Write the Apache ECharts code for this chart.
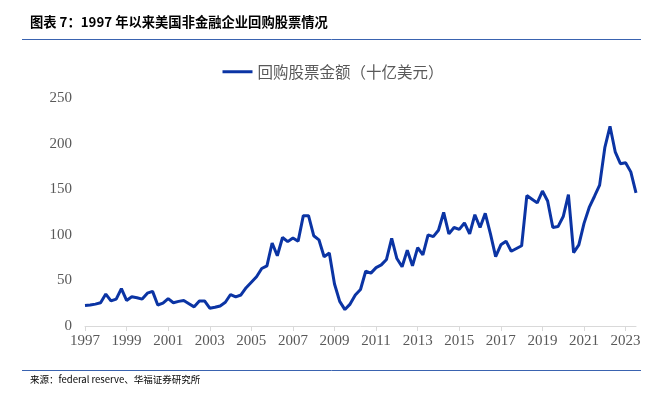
<!DOCTYPE html>
<html>
<head>
<meta charset="utf-8">
<script src="https://cdn.jsdelivr.net/npm/echarts@6/dist/echarts.min.js"></script>
<style>html,body{margin:0;padding:0;background:#fff;}#c{width:666px;height:393px;}</style>
</head>
<body>
<div id="c"></div>
<script>
// Quarterly categories 1997Q1 .. 2023Q3
const years = [];
for (let y = 1997; y <= 2023; y++) years.push(y);
const quarters = [];
years.forEach(y => { for (let q = 1; q <= 4; q++) { if (y === 2023 && q > 3) break; quarters.push(y + 'Q' + q); } });

const seriesName = '回购股票金额（十亿美元）';
const buybacks = [
  22.5, 23, 24, 25.5, 35, 27.5, 29.5, 41,          // 1997-1998
  28, 32, 31, 29.5, 36, 38, 23, 25,                // 1999-2000
  30, 25.5, 27, 28, 24.5, 21, 27.5, 27.5,          // 2001-2002
  19.5, 20.5, 22, 26, 34.5, 32, 34, 42,            // 2003-2004
  48, 54, 63, 66, 91, 77, 97, 92.5,                // 2005-2006
  96.5, 93, 121, 121, 99, 94.5, 76, 80,            // 2007-2008
  46, 27, 18, 24, 34, 40, 60, 58,                  // 2009-2010
  64, 67, 73, 96, 74, 65, 83, 66,                  // 2011-2012
  86, 78, 100, 98, 105, 124.5, 101, 108,           // 2013-2014
  106, 113, 101, 122, 108, 123.5, 101, 76,         // 2015-2016
  89, 93, 82, 85, 88, 143, 139, 135,               // 2017-2018
  148, 137, 108, 109, 120, 144, 80.5, 89,          // 2019-2020
  112.5, 130, 142, 154.5, 195.5, 219, 191, 178,    // 2021-2022
  179, 169, 146                                    // 2023
];
const yTicks = { min: 0, max: 250, interval: 50 };

const titleText = '图表 7：1997 年以来美国非金融企业回购股票情况';
const sourceText = '来源：federal reserve、华福证券研究所';

const chart = echarts.init(document.getElementById('c'), null, { renderer: 'canvas' });
chart.setOption({
  backgroundColor: '#ffffff',
  animation: false,
  graphic: [
    { type: 'text', left: 30, top: 15, style: { text: titleText, font: 'bold 13.3px "Noto Sans CJK SC", sans-serif', fill: '#000' } },
    { type: 'line', shape: { x1: 22, y1: 39.5, x2: 641, y2: 39.5 }, style: { stroke: '#3A63B0', lineWidth: 1 } },
    { type: 'line', shape: { x1: 22, y1: 370.5, x2: 641, y2: 370.5 }, style: { stroke: '#3A63B0', lineWidth: 1 } },
    { type: 'text', left: 30, top: 375, style: { text: sourceText, font: '9.5px "Noto Sans CJK SC", sans-serif', fill: '#000' } }
  ],
  legend: {
    top: 59,
    left: 'center',
    icon: 'rect',
    itemWidth: 30,
    itemHeight: 3,
    itemGap: 6,
    textStyle: { color: '#595959', fontSize: 15.5, fontFamily: '"Noto Sans CJK SC", sans-serif' },
    data: [seriesName]
  },
  grid: { left: 85, right: 30, top: 98, bottom: 67, containLabel: false },
  xAxis: {
    type: 'category',
    data: quarters,
    boundaryGap: false,
    axisLine: { lineStyle: { color: '#D9D9D9', width: 1 } },
    axisTick: { interval: 7, length: 5, lineStyle: { color: '#D9D9D9' } },
    axisLabel: {
      interval: 7,
      margin: 8,
      color: '#595959',
      fontSize: 15,
      fontFamily: '"Liberation Serif", "Times New Roman", serif',
      formatter: v => v.slice(0, 4)
    },
    splitLine: { show: false }
  },
  yAxis: {
    type: 'value',
    min: yTicks.min,
    max: yTicks.max,
    interval: yTicks.interval,
    axisLine: { show: false },
    axisTick: { show: false },
    splitLine: { show: false },
    axisLabel: {
      margin: 13,
      color: '#595959',
      fontSize: 15,
      fontFamily: '"Liberation Serif", "Times New Roman", serif'
    }
  },
  series: [{
    name: seriesName,
    type: 'line',
    data: buybacks,
    symbol: 'none',
    lineStyle: { color: '#0B34A4', width: 3 },
    itemStyle: { color: '#0B34A4' }
  }]
});
</script>
</body>
</html>
